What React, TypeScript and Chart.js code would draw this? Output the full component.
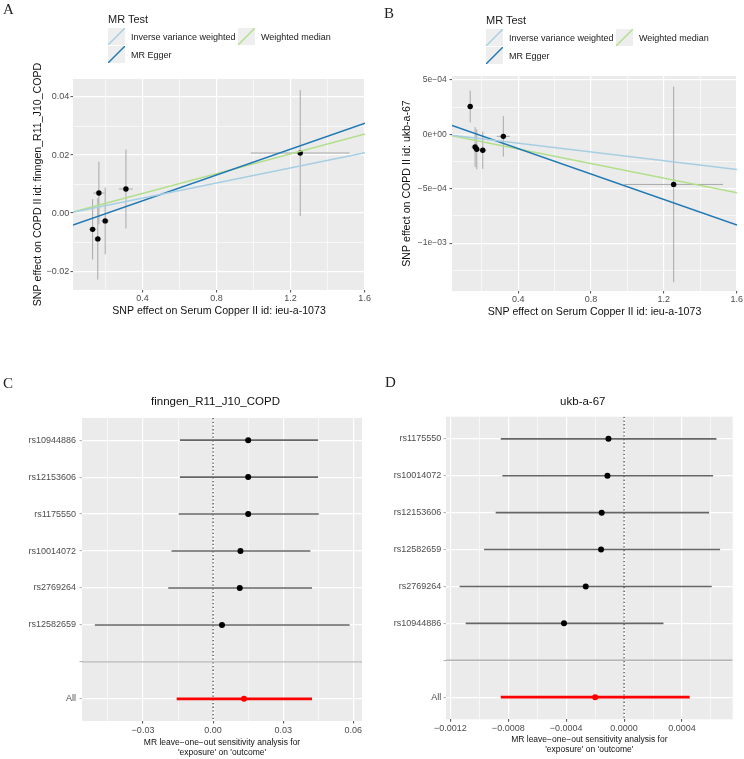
import React, { useEffect, useRef } from "react";
import { Chart, registerables } from "chart.js";

Chart.register(...registerables);

const SANS = '"Liberation Sans", Arial, Helvetica, sans-serif';
const SERIF = '"Liberation Serif", "Times New Roman", serif';

// ---------- MR methods shared by both scatter plots ----------
const METHODS = ["Inverse variance weighted", "MR Egger", "Weighted median"];
const METHOD_COLORS = ["#A6CEE3", "#1F78B4", "#B2DF8A"];

// ---------- A: Serum Copper -> finngen_R11_J10_COPD ----------
const A_BETA_EXP = [0.13, 0.158, 0.164, 0.198, 0.31, 1.252];
const A_SE_EXP = [0.02, 0.018, 0.03, 0.022, 0.037, 0.267];
const A_BETA_OUT = [-0.0056, -0.0089, 0.0069, -0.0027, 0.0083, 0.0207];
const A_SE_OUT = [0.0104, 0.014, 0.0108, 0.0115, 0.0136, 0.0217];
const A_SLOPE = [0.013, 0.0222, 0.017];
const A_INTERCEPT = [0, -0.00463, 0];
const A_X_RANGE = [0.024, 1.602];
const A_Y_RANGE = [-0.0265, 0.0462];
const A_X_TICKS = [0.4, 0.8, 1.2, 1.6];
const A_X_LABELS = ["0.4", "0.8", "1.2", "1.6"];
const A_X_MINOR = [0.2, 0.6, 1.0, 1.4];
const A_Y_TICKS = [-0.02, 0, 0.02, 0.04];
const A_Y_LABELS = ["\u22120.02", "0.00", "0.02", "0.04"];
const A_Y_MINOR = [-0.01, 0.01, 0.03];
const A_X_TITLE = "SNP effect on Serum Copper II id: ieu-a-1073";
const A_Y_TITLE = "SNP effect on COPD II id: finngen_R11_J10_COPD";

// ---------- B: Serum Copper -> ukb-a-67 ----------
const B_BETA_EXP = [0.136, 0.163, 0.172, 0.205, 0.318, 1.254];
const B_SE_EXP = [0.015, 0.02, 0.02, 0.02, 0.036, 0.271];
const B_BETA_OUT = [0.000256, -0.000116, -0.000137, -0.000146, -0.000018, -0.00046];
const B_SE_OUT = [0.000146, 0.000183, 0.000183, 0.000172, 0.000186, 0.0009];
const B_SLOPE = [-0.000202, -0.000584, -0.000335];
const B_INTERCEPT = [0, 0.000103, 0];
const B_X_RANGE = [0.036, 1.602];
const B_Y_RANGE = [-0.00144, 0.000537];
const B_X_TICKS = [0.4, 0.8, 1.2, 1.6];
const B_X_LABELS = ["0.4", "0.8", "1.2", "1.6"];
const B_X_MINOR = [0.2, 0.6, 1.0, 1.4];
const B_Y_TICKS = [-0.001, -0.0005, 0, 0.0005];
const B_Y_LABELS = ["\u22121e\u221203", "\u22125e\u221204", "0e+00", "5e\u221204"];
const B_Y_MINOR = [-0.00125, -0.00075, -0.00025, 0.00025];
const B_X_TITLE = "SNP effect on Serum Copper II id: ieu-a-1073";
const B_Y_TITLE = "SNP effect on COPD II id: ukb-a-67";

// ---------- C: leave-one-out, finngen_R11_J10_COPD ----------
const C_TITLE = "finngen_R11_J10_COPD";
const C_SNPS = ["rs10944886", "rs12153606", "rs1175550", "rs10014072", "rs2769264", "rs12582659"];
const C_B = [0.015, 0.015, 0.015, 0.0117, 0.0114, 0.0038];
const C_LO = [-0.0142, -0.0142, -0.0147, -0.0178, -0.0192, -0.0506];
const C_UP = [0.0449, 0.0449, 0.0452, 0.0416, 0.0423, 0.0584];
const C_ALL = { b: 0.0132, lo: -0.0156, up: 0.0423 };
const C_X_RANGE = [-0.0561, 0.0637];
const C_X_TICKS = [-0.03, 0, 0.03, 0.06];
const C_X_LABELS = ["\u22120.03", "0.00", "0.03", "0.06"];
const C_X_MINOR = [-0.045, -0.015, 0.015, 0.045];

// ---------- D: leave-one-out, ukb-a-67 ----------
const D_TITLE = "ukb-a-67";
const D_SNPS = ["rs1175550", "rs10014072", "rs12153606", "rs12582659", "rs2769264", "rs10944886"];
const D_B = [-0.000108, -0.000115, -0.000155, -0.000159, -0.000265, -0.000415];
const D_LO = [-0.000852, -0.000841, -0.000887, -0.000967, -0.001136, -0.001094];
const D_UP = [0.000638, 0.000615, 0.000587, 0.000663, 0.000605, 0.000272];
const D_ALL = { b: -0.0002, lo: -0.000852, up: 0.000453 };
const D_X_RANGE = [-0.00123, 0.00075];
const D_X_TICKS = [-0.0012, -0.0008, -0.0004, 0, 0.0004];
const D_X_LABELS = ["\u22120.0012", "\u22120.0008", "\u22120.0004", "0.0000", "0.0004"];
const D_X_MINOR = [-0.001, -0.0006, -0.0002, 0.0002, 0.0006];

const ALL_LABEL = "All";
const LOO_X_TITLE = ["MR leave\u2212one\u2212out sensitivity analysis for", "'exposure' on 'outcome'"];

// ---------- helpers ----------
type TickItem = { value: number; label: string; major: boolean };

function tickItems(major: number[], labels: string[], minor: number[]): TickItem[] {
  const items: TickItem[] = major.map((v, i) => ({ value: v, label: labels[i], major: true }));
  minor.forEach((v) => items.push({ value: v, label: "", major: false }));
  return items.sort((a, b) => a.value - b.value);
}

const panelBackground = {
  id: "panelBackground",
  beforeDraw(chart: any) {
    const { ctx, chartArea: a } = chart;
    ctx.save();
    ctx.fillStyle = "#EBEBEB";
    ctx.fillRect(a.left, a.top, a.right - a.left, a.bottom - a.top);
    ctx.restore();
  },
};

interface AxisSpec {
  min: number;
  max: number;
  items: TickItem[];
  size: number;
  horizontal: boolean;
  fontSize: number;
  tickPad: number;
  reverse?: boolean;
  title?: string | string[];
  titleSize?: number;
  titleLineHeight?: number;
  titlePad?: number;
  tickMarkColor?: string;
  tickMarkWidth?: number;
}

function makeAxis(s: AxisSpec) {
  const find = (v: number) => s.items.find((t) => Math.abs(t.value - v) < 1e-12);
  const isMajor = (ctx: any) => !!(ctx.tick && find(ctx.tick.value)?.major);
  return {
    type: "linear",
    position: s.horizontal ? "bottom" : "left",
    min: s.min,
    max: s.max,
    reverse: !!s.reverse,
    afterBuildTicks: (scale: any) => {
      scale.ticks = s.items.map((t) => ({ value: t.value }));
    },
    afterFit: (scale: any) => {
      if (s.horizontal) scale.height = s.size;
      else scale.width = s.size;
      scale.paddingLeft = 0;
      scale.paddingRight = 0;
      scale.paddingTop = 0;
      scale.paddingBottom = 0;
    },
    border: { display: false },
    grid: {
      color: "#FFFFFF",
      lineWidth: (ctx: any) => (isMajor(ctx) ? 1.2 : 0.6),
      drawTicks: true,
      tickLength: 2.5,
      tickWidth: s.tickMarkWidth ?? 1,
      tickColor: (ctx: any) => (isMajor(ctx) ? s.tickMarkColor ?? "#4D4D4D" : "rgba(0,0,0,0)"),
    },
    ticks: {
      autoSkip: false,
      maxRotation: 0,
      minRotation: 0,
      padding: s.tickPad,
      color: "#4D4D4D",
      font: { family: SANS, size: s.fontSize },
      callback: (value: number) => find(value)?.label ?? "",
    },
    title: s.title
      ? {
          display: true,
          text: s.title,
          color: "#111111",
          font: { family: SANS, size: s.titleSize, lineHeight: s.titleLineHeight ?? 1.2 },
          padding: { top: s.titlePad, bottom: s.titlePad },
        }
      : { display: false },
  };
}

const baseOptions = (padding: any) => ({
  animation: false,
  responsive: false,
  maintainAspectRatio: false,
  events: [],
  layout: { padding },
  plugins: { legend: { display: false }, tooltip: { enabled: false }, title: { display: false } },
});

interface ScatterSpec {
  exp: number[];
  seExp: number[];
  out: number[];
  seOut: number[];
  slope: number[];
  intercept: number[];
  xRange: number[];
  yRange: number[];
  xItems: TickItem[];
  yItems: TickItem[];
  xTitle: string;
  yTitle: string;
  padding: any;
  xSize: number;
  ySize: number;
  xTickPad: number;
  yTickPad: number;
  yFont: number;
  xTitlePad: number;
  yTitlePad: number;
}

function scatterConfig(s: ScatterSpec): any {
  const datasets: any[] = [];
  const [x0, x1] = s.xRange;
  METHODS.forEach((m, k) => {
    datasets.push({
      label: m,
      data: [
        { x: x0, y: s.intercept[k] + s.slope[k] * x0 },
        { x: x1, y: s.intercept[k] + s.slope[k] * x1 },
      ],
      showLine: true,
      pointRadius: 0,
      borderColor: METHOD_COLORS[k],
      borderWidth: 1.5,
      order: 1,
    });
  });
  s.exp.forEach((x, i) => {
    const y = s.out[i];
    datasets.push({
      data: [
        { x, y: y - s.seOut[i] },
        { x, y: y + s.seOut[i] },
      ],
      showLine: true,
      pointRadius: 0,
      borderColor: "#A8A8A8",
      borderWidth: 1,
      order: 3,
    });
    datasets.push({
      data: [
        { x: x - s.seExp[i], y },
        { x: x + s.seExp[i], y },
      ],
      showLine: true,
      pointRadius: 0,
      borderColor: "#A8A8A8",
      borderWidth: 1,
      order: 3,
    });
  });
  datasets.push({
    data: s.exp.map((x, i) => ({ x, y: s.out[i] })),
    pointRadius: 2.7,
    backgroundColor: "#000000",
    borderWidth: 0,
    order: 2,
  });
  return {
    type: "scatter",
    data: { datasets },
    options: {
      ...baseOptions(s.padding),
      scales: {
        x: makeAxis({
          min: s.xRange[0],
          max: s.xRange[1],
          items: s.xItems,
          size: s.xSize,
          horizontal: true,
          fontSize: 9,
          tickPad: s.xTickPad,
          title: s.xTitle,
          titleSize: 10.6,
          titlePad: s.xTitlePad,
        }),
        y: makeAxis({
          min: s.yRange[0],
          max: s.yRange[1],
          items: s.yItems,
          size: s.ySize,
          horizontal: false,
          fontSize: s.yFont,
          tickPad: s.yTickPad,
          title: s.yTitle,
          titleSize: 10.6,
          titlePad: s.yTitlePad,
        }),
      },
    },
    plugins: [panelBackground],
  };
}

interface ForestSpec {
  snps: string[];
  b: number[];
  lo: number[];
  up: number[];
  all: { b: number; lo: number; up: number };
  xRange: number[];
  xItems: TickItem[];
  padding: any;
  xSize: number;
  ySize: number;
  xTickPad: number;
  yTickPad: number;
  xTitlePad: number;
}

function forestConfig(f: ForestSpec): any {
  const n = f.snps.length;
  const blankPos = n + 1;
  const allPos = n + 2;
  const yMin = 0.4;
  const yMax = allPos + 0.6;
  const yItems: TickItem[] = f.snps.map((s, i) => ({ value: i + 1, label: s, major: true }));
  yItems.push({ value: blankPos, label: "", major: true });
  yItems.push({ value: allPos, label: ALL_LABEL, major: true });

  const datasets: any[] = [];
  // dotted reference line at zero
  datasets.push({
    data: [
      { x: 0, y: yMin },
      { x: 0, y: yMax },
    ],
    showLine: true,
    pointRadius: 0,
    borderColor: "#3A3A3A",
    borderWidth: 1.2,
    borderDash: [1.3, 2.4],
    order: 6,
  });
  f.snps.forEach((_, i) => {
    datasets.push({
      data: [
        { x: f.lo[i], y: i + 1 },
        { x: f.up[i], y: i + 1 },
      ],
      showLine: true,
      pointRadius: 0,
      borderColor: "#666666",
      borderWidth: 1.6,
      order: 4,
    });
  });
  datasets.push({
    data: [
      { x: f.all.lo, y: allPos },
      { x: f.all.up, y: allPos },
    ],
    showLine: true,
    pointRadius: 0,
    borderColor: "#FF0000",
    borderWidth: 2.8,
    order: 4,
  });
  datasets.push({
    data: f.b.map((x, i) => ({ x, y: i + 1 })),
    pointRadius: 3,
    backgroundColor: "#000000",
    borderWidth: 0,
    order: 3,
  });
  datasets.push({
    data: [{ x: f.all.b, y: allPos }],
    pointRadius: 3,
    backgroundColor: "#FF0000",
    borderWidth: 0,
    order: 3,
  });
  // separator between single SNPs and the combined estimate
  datasets.push({
    data: [
      { x: f.xRange[0], y: blankPos },
      { x: f.xRange[1], y: blankPos },
    ],
    showLine: true,
    pointRadius: 0,
    borderColor: "#B4B4B4",
    borderWidth: 1.3,
    order: 1,
  });

  return {
    type: "scatter",
    data: { datasets },
    options: {
      ...baseOptions(f.padding),
      scales: {
        x: makeAxis({
          min: f.xRange[0],
          max: f.xRange[1],
          items: f.xItems,
          size: f.xSize,
          horizontal: true,
          fontSize: 9,
          tickPad: f.xTickPad,
          title: LOO_X_TITLE,
          titleSize: 8.5,
          titleLineHeight: 1.18,
          titlePad: f.xTitlePad,
        }),
        y: makeAxis({
          min: yMin,
          max: yMax,
          reverse: true,
          items: yItems,
          size: f.ySize,
          horizontal: false,
          fontSize: 9,
          tickPad: f.yTickPad,
          tickMarkColor: "#8A8A8A",
          tickMarkWidth: 0.7,
        }),
      },
    },
    plugins: [panelBackground],
  };
}

// ---------- components ----------
function ChartCanvas(props: { make: () => any; left: number; top: number; width: number; height: number }) {
  const ref = useRef<HTMLCanvasElement>(null);
  useEffect(() => {
    const chart = new Chart(ref.current as HTMLCanvasElement, props.make());
    return () => chart.destroy();
  }, []);
  return (
    <canvas
      ref={ref}
      width={props.width}
      height={props.height}
      style={{ position: "absolute", left: props.left, top: props.top, width: props.width, height: props.height }}
    />
  );
}

function Text(props: { x: number; y: number; size: number; family?: string; color?: string; center?: boolean; children: any }) {
  return (
    <div
      style={{
        position: "absolute",
        left: props.x,
        top: props.y,
        transform: props.center ? "translate(-50%, -50%)" : "translate(0, -50%)",
        fontFamily: props.family ?? SANS,
        fontSize: props.size,
        lineHeight: 1,
        color: props.color ?? "#000",
        whiteSpace: "nowrap",
      }}
    >
      {props.children}
    </div>
  );
}

function Swatch(props: { x: number; y: number; color: string }) {
  return (
    <svg width={17} height={17} style={{ position: "absolute", left: props.x, top: props.y }}>
      <rect x={0} y={0} width={17} height={17} fill="#EEEEEE" />
      <line x1={0} y1={17} x2={17} y2={0} stroke={props.color} strokeWidth={1.4} />
    </svg>
  );
}

function Legend(props: { x: number; y: number }) {
  const { x, y } = props;
  // two columns: IVW and MR Egger in the first, Weighted median in the second
  const cells = [
    { m: 0, cx: 0, cy: 0 },
    { m: 1, cx: 0, cy: 1 },
    { m: 2, cx: 1, cy: 0 },
  ];
  return (
    <>
      <Text x={x} y={y} size={11} color="#1A1A1A">
        MR Test
      </Text>
      {cells.map((c) => {
        const kx = x + c.cx * 130;
        const ky = y + 9 + c.cy * 18;
        return (
          <React.Fragment key={c.m}>
            <Swatch x={kx} y={ky} color={METHOD_COLORS[c.m]} />
            <Text x={kx + 23} y={ky + 8.5} size={9} color="#1A1A1A">
              {METHODS[c.m]}
            </Text>
          </React.Fragment>
        );
      })}
    </>
  );
}

export default function App() {
  const makeA = () =>
    scatterConfig({
      exp: A_BETA_EXP,
      seExp: A_SE_EXP,
      out: A_BETA_OUT,
      seOut: A_SE_OUT,
      slope: A_SLOPE,
      intercept: A_INTERCEPT,
      xRange: A_X_RANGE,
      yRange: A_Y_RANGE,
      xItems: tickItems(A_X_TICKS, A_X_LABELS, A_X_MINOR),
      yItems: tickItems(A_Y_TICKS, A_Y_LABELS, A_Y_MINOR),
      xTitle: A_X_TITLE,
      yTitle: A_Y_TITLE,
      padding: { top: 79, right: 7, left: 0, bottom: 0 },
      xSize: 40,
      ySize: 73,
      xTickPad: 1.1,
      yTickPad: 1.2,
      yFont: 9,
      xTitlePad: 12.6,
      yTitlePad: 31.6,
    });
  const makeB = () =>
    scatterConfig({
      exp: B_BETA_EXP,
      seExp: B_SE_EXP,
      out: B_BETA_OUT,
      seOut: B_SE_OUT,
      slope: B_SLOPE,
      intercept: B_INTERCEPT,
      xRange: B_X_RANGE,
      yRange: B_Y_RANGE,
      xItems: tickItems(B_X_TICKS, B_X_LABELS, B_X_MINOR),
      yItems: tickItems(B_Y_TICKS, B_Y_LABELS, B_Y_MINOR),
      xTitle: B_X_TITLE,
      yTitle: B_Y_TITLE,
      padding: { top: 76, right: 7, left: 0, bottom: 0 },
      xSize: 39,
      ySize: 80,
      xTickPad: 0.6,
      yTickPad: 2.8,
      yFont: 8.5,
      xTitlePad: 11.9,
      yTitlePad: 28.6,
    });
  const makeC = () =>
    forestConfig({
      snps: C_SNPS,
      b: C_B,
      lo: C_LO,
      up: C_UP,
      all: C_ALL,
      xRange: C_X_RANGE,
      xItems: tickItems(C_X_TICKS, C_X_LABELS, C_X_MINOR),
      padding: { top: 48, right: 10, left: 0, bottom: 0 },
      xSize: 38,
      ySize: 82,
      xTickPad: 1.8,
      yTickPad: 3.5,
      xTitlePad: 1.3,
    });
  const makeD = () =>
    forestConfig({
      snps: D_SNPS,
      b: D_B,
      lo: D_LO,
      up: D_UP,
      all: D_ALL,
      xRange: D_X_RANGE,
      xItems: tickItems(D_X_TICKS, D_X_LABELS, D_X_MINOR),
      padding: { top: 46.7, right: 11.3, left: 0, bottom: 0 },
      xSize: 39.7,
      ySize: 74,
      xTickPad: 1.1,
      yTickPad: 2.2,
      xTitlePad: 4.7,
    });

  return (
    <div style={{ position: "absolute", left: 0, top: 0, width: 744, height: 759, background: "#FFFFFF", overflow: "hidden" }}>
      <ChartCanvas make={makeA} left={0} top={0} width={372} height={330} />
      <ChartCanvas make={makeB} left={372} top={0} width={372} height={330} />
      <ChartCanvas make={makeC} left={0} top={370} width={372} height={389} />
      <ChartCanvas make={makeD} left={372} top={370} width={372} height={389} />

      <Legend x={108} y={19} />
      <Legend x={486} y={20} />

      <Text x={3} y={9} size={15} family={SERIF} color="#222">A</Text>
      <Text x={384} y={13} size={15} family={SERIF} color="#222">B</Text>
      <Text x={3} y={382.5} size={15} family={SERIF} color="#222">C</Text>
      <Text x={385} y={381.7} size={15} family={SERIF} color="#222">D</Text>

      <Text x={215.5} y={401.7} size={11.5} center color="#111">{C_TITLE}</Text>
      <Text x={582.8} y={401.7} size={11.5} center color="#111">{D_TITLE}</Text>
    </div>
  );
}
